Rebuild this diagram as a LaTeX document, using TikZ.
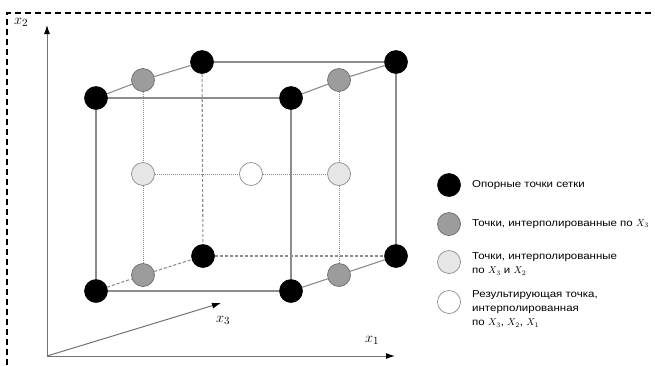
\documentclass[tikz,border=0pt]{standalone}
\usepackage{fontspec}
\setmainfont{Liberation Sans}
\newfontfamily\legendfont[FakeStretch=1.15]{Liberation Sans}
\usetikzlibrary{arrows.meta}
\definecolor{edgegray}{HTML}{8C8C8C}
\definecolor{midgray}{HTML}{9C9C9C}
\definecolor{lightgray}{HTML}{E6E6E6}
\tikzset{
  grid/.style={circle,minimum size=23pt,inner sep=0pt,line width=0.6pt,fill=black,draw=black},
  interp/.style={circle,minimum size=23pt,inner sep=0pt,line width=0.7pt,fill=midgray,draw=gray!85!black},
  interpb/.style={circle,minimum size=23pt,inner sep=0pt,line width=0.7pt,fill=lightgray,draw=edgegray},
  result/.style={circle,minimum size=23pt,inner sep=0pt,line width=0.7pt,fill=white,draw=edgegray},
  edge/.style={draw=edgegray,line width=1.1pt},
  hidden/.style={draw=edgegray,line width=1.1pt,dash pattern=on 3pt off 2pt},
  aux/.style={draw=edgegray,line width=1pt,dash pattern=on 1pt off 1pt},
  axis/.style={draw=gray!90!black,line width=1pt,-{Latex[length=9pt,width=6pt,color=black]}},
  axlabel/.style={font=\fontsize{15}{15}\selectfont,inner sep=0pt},
  legend/.style={anchor=west,inner sep=0pt,font=\legendfont\fontsize{10}{14}\selectfont,align=left},
}
\begin{document}
\begin{tikzpicture}[x=1pt,y=-1pt]
\useasboundingbox (0,0) rectangle (655,365);
% frame
\draw[line width=1.2pt,dash pattern=on 6pt off 4pt] (7,365) -- (7,13) -- (655,13);

% axes
\coordinate (O) at (47,356);
\coordinate (X1end) at (395,356);
\coordinate (X2end) at (47,25);
\coordinate (X3end) at (221,303);
\draw[axis] (O) -- (X1end);
\draw[axis] (O) -- (X2end);
\draw[axis] (O) -- (X3end);
\node[axlabel] (lx1) at (372,340) {$x_1$};
\node[axlabel] (lx2) at (21,22) {$x_2$};
\node[axlabel] (lx3) at (223,320) {$x_3$};

% grid points
\node[grid] (ftl) at (96,98) {};
\node[grid] (ftr) at (291,98) {};
\node[grid] (fbl) at (96,291) {};
\node[grid] (fbr) at (291,291) {};
\node[grid] (btl) at (202,62) {};
\node[grid] (btr) at (396,62) {};
\node[grid] (bbl) at (203,256) {};
\node[grid] (bbr) at (396,256) {};

% points interpolated along x3
\node[interp] (gtl) at (143,80) {};
\node[interp] (gtr) at (339,80) {};
\node[interp] (gbl) at (143,275) {};
\node[interp] (gbr) at (339,275) {};

% points interpolated along x3 and x2, and the result
\node[interpb] (ll) at (143,174) {};
\node[interpb] (lr) at (339,174) {};
\node[result] (res) at (251,174) {};

% hidden edges
\draw[hidden] (btl) -- (bbl);
\draw[hidden] (bbl) -- (bbr);
\draw[hidden] (fbl) -- (gbl);
\draw[hidden] (gbl) -- (bbl);

% visible edges
\draw[edge] (ftl) -- (ftr);
\draw[edge] (ftl) -- (fbl);
\draw[edge] (fbl) -- (fbr);
\draw[edge] (ftr) -- (fbr);
\draw[edge] (btl) -- (btr);
\draw[edge] (btr) -- (bbr);
\draw[edge] (ftl) -- (gtl);
\draw[edge] (gtl) -- (btl);
\draw[edge] (ftr) -- (gtr);
\draw[edge] (gtr) -- (btr);
\draw[edge] (fbr) -- (gbr);
\draw[edge] (gbr) -- (bbr);

% interpolation lines
\draw[aux] (gtl) -- (ll);
\draw[aux] (ll) -- (gbl);
\draw[aux] (gtr) -- (lr);
\draw[aux] (lr) -- (gbr);
\draw[aux] (ll) -- (res);
\draw[aux] (res) -- (lr);

% legend
\node[grid] (k1) at (449,185) {};
\node[interp] (k2) at (449,224) {};
\node[interpb] (k3) at (449,262) {};
\node[result] (k4) at (449,302) {};
\node[legend] (t1) at (472,185) {Опорные точки сетки};
\node[legend] (t2) at (472,224) {Точки, интерполированные по $X_3$};
\node[legend] (t3) at (472,264) {Точки, интерполированные\\по $X_3$ и $X_2$};
\node[legend] (t4) at (472,309) {Результирующая точка,\\интерполированная\\по $X_3$, $X_2$, $X_1$};
\end{tikzpicture}
\end{document}
